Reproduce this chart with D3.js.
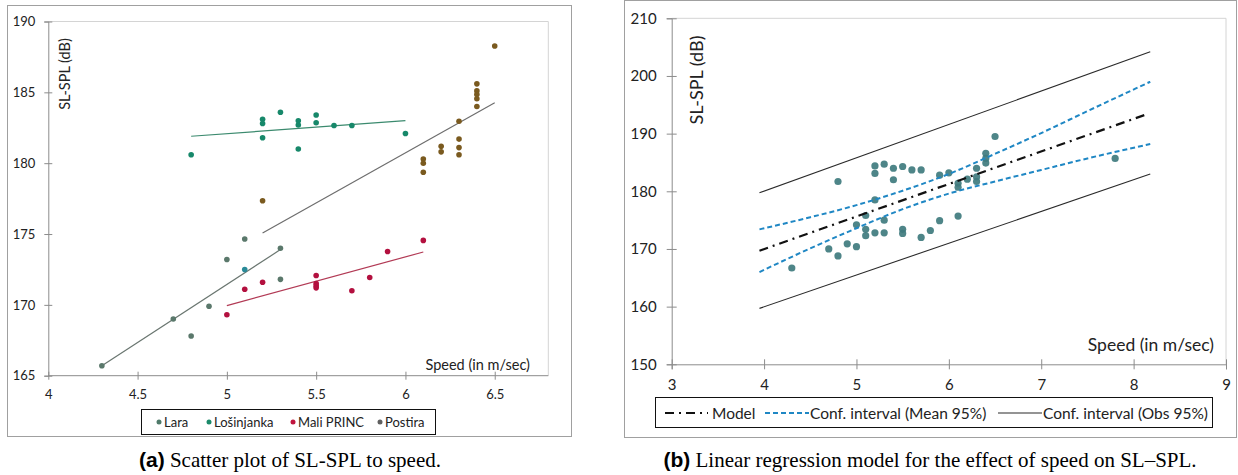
<!DOCTYPE html>
<html>
<head>
<meta charset="utf-8">
<script src="https://cdn.jsdelivr.net/npm/d3@7"></script>
<style>
  html, body { margin: 0; padding: 0; background: #fff; }
  svg { display: block; }
  .ax text { font-family: Lato, "Open Sans", sans-serif; fill: #222; }
</style>
</head>
<body>
<svg id="fig" width="1238" height="475"></svg>
<script>
// ---------- Panel (a): SL-SPL vs speed, per vessel ----------
const vessels = ["Lara", "Lošinjanka", "Mali PRINC", "Postira"];
const laraSpeed = [4.3, 4.7, 4.8, 4.9, 5.0, 5.1, 5.3, 5.3];
const laraSpl   = [165.7, 169.0, 167.8, 169.9, 173.2, 174.65, 174.0, 171.8];
const losSpeed  = [4.8, 5.1, 5.2, 5.2, 5.2, 5.3, 5.4, 5.4, 5.4, 5.5, 5.5, 5.6, 5.7, 6.0];
const losSpl    = [180.6, 172.5, 183.1, 182.8, 181.8, 183.6, 183.0, 182.7, 181.0, 183.4, 182.85, 182.66, 182.66, 182.1];
const maliSpeed = [5.0, 5.1, 5.2, 5.5, 5.5, 5.5, 5.5, 5.7, 5.8, 5.9, 6.1];
const maliSpl   = [169.3, 171.1, 171.6, 172.07, 171.5, 171.35, 171.2, 171.0, 171.93, 173.77, 174.55];
const postSpeed = [5.2, 6.1, 6.1, 6.1, 6.2, 6.2, 6.3, 6.3, 6.3, 6.3, 6.4, 6.4, 6.4, 6.4, 6.4, 6.5];
const postSpl   = [177.35, 180.3, 180.0, 179.36, 181.2, 180.8, 182.96, 181.7, 181.1, 180.6, 185.6, 185.1, 184.85, 184.55, 184.0, 188.27];
// fitted trend per vessel: [start speed, start SPL, end speed, end SPL]
const laraTrend = [4.3, 165.7, 5.3, 173.9];
const losTrend  = [4.8, 181.9, 6.0, 183.0];
const maliTrend = [5.0, 169.95, 6.1, 173.73];
const postTrend = [5.2, 175.07, 6.5, 184.26];
const ticksA_x = [4, 4.5, 5, 5.5, 6, 6.5];
const ticksA_y = [165, 170, 175, 180, 185, 190];

// ---------- Panel (b): pooled regression ----------
const allSpeed = [4.3, 4.7, 4.8, 4.9, 5.0, 4.8, 5.0, 5.1, 5.1, 5.1, 5.2, 5.2, 5.3, 5.3, 5.2, 5.2, 5.3, 5.4, 5.4, 5.5, 5.5, 5.5, 5.6, 5.7, 5.7, 5.8, 5.9, 5.9, 6.0, 6.1, 6.1, 6.1, 6.2, 6.3, 6.3, 6.3, 6.4, 6.4, 6.4, 6.5, 7.8];
const allSpl   = [166.7, 170.0, 168.8, 170.9, 170.4, 181.7, 174.2, 175.8, 173.4, 172.3, 178.5, 172.8, 175.0, 172.8, 184.4, 183.1, 184.7, 184.0, 182.0, 184.3, 173.4, 172.7, 183.7, 183.7, 172.0, 173.2, 182.8, 174.9, 183.2, 175.7, 181.4, 180.7, 182.1, 184.0, 182.5, 181.7, 186.6, 185.7, 184.9, 189.5, 185.7];
const modelSpeed = [3.95, 8.15];
const modelSpl   = [169.7, 193.4];
const ciSpeed    = [3.95, 4.5, 5.0, 5.5, 6.0, 6.5, 7.0, 7.5, 8.18];
const ciMeanHi   = [173.4, 175.5, 177.6, 180.1, 183.0, 186.5, 190.1, 193.9, 199.0];
const ciMeanLo   = [166.0, 170.1, 173.6, 176.9, 179.6, 181.7, 183.7, 185.7, 188.2];
const obsSpeed   = [3.95, 8.18];
const ciObsHi    = [179.75, 204.2];
const ciObsLo    = [159.7, 183.0];
const ticksB_x = [3, 4, 5, 6, 7, 8, 9];
const ticksB_y = [150, 160, 170, 180, 190, 200, 210];
const legendB = ["Model", "Conf. interval (Mean 95%)", "Conf. interval (Obs 95%)"];

const svg = d3.select("#fig");
const FONT = "Lato, 'Open Sans', sans-serif";

function greyAxis(g) {
  g.selectAll(".tick line").attr("stroke", "#8c8c8c");
  g.select(".domain").attr("stroke", "#8c8c8c");
}

// ================= Panel (a) =================
const A = svg.append("g");
A.append("rect").attr("x", 7.5).attr("y", 5.5).attr("width", 564).attr("height", 431)
  .attr("fill", "#fff").attr("stroke", "#a0a0a0");

const xA = d3.scaleLinear().domain([4, 6.8]).range([48.3, 548.3]);
const yA = d3.scaleLinear().domain([165, 190]).range([375.7, 21.5]);

// plot area frame (top / right)
A.append("path")
  .attr("d", `M${xA(4)},${yA(190)}H${xA(6.8)}V${yA(165)}`)
  .attr("fill", "none").attr("stroke", "#d4d4d4");

const axAx = A.append("g").attr("class", "ax").attr("transform", `translate(0,${yA(165)})`)
  .call(d3.axisBottom(xA).tickValues(ticksA_x).tickSizeOuter(0).tickSize(4).tickPadding(10)
    .tickFormat(d => String(d)));
axAx.selectAll(".tick line").attr("y1", -4).attr("y2", 4);
axAx.selectAll("text").style("font-size", "13px");
greyAxis(axAx);
axAx.select(".domain").attr("d", `M${xA(4)},0H${xA(6.8)}`);

const ayAx = A.append("g").attr("class", "ax").attr("transform", `translate(${xA(4)},0)`)
  .call(d3.axisLeft(yA).tickValues(ticksA_y).tickSizeOuter(0).tickSize(4).tickPadding(9));
ayAx.selectAll(".tick line").attr("x1", -4).attr("x2", 4);
ayAx.selectAll("text").style("font-size", "13px");
greyAxis(ayAx);

A.append("text").attr("transform", `translate(65,74) rotate(-90)`)
  .attr("text-anchor", "middle").attr("dy", "0.35em").attr("font-family", FONT).attr("font-size", 14.5).attr("fill", "#222")
  .text("SL-SPL (dB)");
A.append("text").attr("x", 530).attr("y", 370)
  .attr("text-anchor", "end").attr("font-family", FONT).attr("font-size", 14.5).attr("fill", "#222")
  .text("Speed (in m/sec)");

const seriesA = [
  { name: vessels[0], sx: laraSpeed, sy: laraSpl, trend: laraTrend, fill: "#5a786b", line: "#6a7670", legend: "#4f7a6a" },
  { name: vessels[1], sx: losSpeed,  sy: losSpl,  trend: losTrend,  fill: "#17886a", line: "#3b8a6e", legend: "#1b8a6a" },
  { name: vessels[2], sx: maliSpeed, sy: maliSpl, trend: maliTrend, fill: "#b3103f", line: "#b23a55", legend: "#c0143e" },
  { name: vessels[3], sx: postSpeed, sy: postSpl, trend: postTrend, fill: "#7a5a1f", line: "#6e6e6e", legend: "#606060" }
];
// the Lošinjanka point at 5.1 m/s overlaps Lara and reads bluish
const losOverlapFill = "#2a8a98";

seriesA.forEach(s => {
  const t = s.trend;
  A.append("line")
    .attr("x1", xA(t[0])).attr("y1", yA(t[1])).attr("x2", xA(t[2])).attr("y2", yA(t[3]))
    .attr("stroke", s.line).attr("stroke-width", 1.2);
});
seriesA.forEach(s => {
  A.append("g").selectAll("circle").data(s.sx.map((v, i) => [v, s.sy[i]])).join("circle")
    .attr("cx", d => xA(d[0])).attr("cy", d => yA(d[1])).attr("r", 2.8)
    .attr("fill", d => (s.name === "Lošinjanka" && d[0] === 5.1) ? losOverlapFill : s.fill);
});

// legend (a)
const legA = A.append("g");
legA.append("rect").attr("x", 141.5).attr("y", 409.5).attr("width", 294).attr("height", 25)
  .attr("fill", "#fff").attr("stroke", "#111");
const legAX = [159, 209, 293, 380];
seriesA.forEach((s, i) => {
  legA.append("circle").attr("cx", legAX[i]).attr("cy", 422).attr("r", 2.5).attr("fill", s.legend);
  legA.append("text").attr("x", legAX[i] + 5).attr("y", 426.5)
    .attr("font-family", FONT).attr("font-size", 13).attr("fill", "#222").text(s.name);
});

// ================= Panel (b) =================
const B = svg.append("g");
B.append("rect").attr("x", 624.5).attr("y", 0.5).attr("width", 612).attr("height", 437)
  .attr("fill", "#fff").attr("stroke", "#a0a0a0");

const xB = d3.scaleLinear().domain([3, 9]).range([671.7, 1226]);
const yB = d3.scaleLinear().domain([150, 210]).range([364.3, 18.3]);

B.append("path")
  .attr("d", `M${xB(3)},${yB(210)}H${xB(9)}V${yB(150)}`)
  .attr("fill", "none").attr("stroke", "#d4d4d4");

const bxAx = B.append("g").attr("class", "ax").attr("transform", `translate(0,${yB(150)})`)
  .call(d3.axisBottom(xB).tickValues(ticksB_x).tickSizeOuter(0).tickSize(5).tickPadding(10)
    .tickFormat(d => String(d)));
bxAx.selectAll(".tick line").attr("y1", -5).attr("y2", 5);
bxAx.selectAll("text").style("font-size", "15px");
greyAxis(bxAx);

const byAx = B.append("g").attr("class", "ax").attr("transform", `translate(${xB(3)},0)`)
  .call(d3.axisLeft(yB).tickValues(ticksB_y).tickSizeOuter(0).tickSize(5).tickPadding(10)
    .tickFormat(d => String(d)));
byAx.selectAll(".tick line").attr("x1", -5).attr("x2", 5);
byAx.selectAll("text").style("font-size", "15px");
greyAxis(byAx);

B.append("text").attr("transform", `translate(697,80) rotate(-90)`)
  .attr("text-anchor", "middle").attr("dy", "0.35em").attr("font-family", FONT).attr("font-size", 18).attr("fill", "#222")
  .text("SL-SPL (dB)");
B.append("text").attr("x", 1214).attr("y", 351)
  .attr("text-anchor", "end").attr("font-family", FONT).attr("font-size", 17.5).attr("fill", "#222")
  .text("Speed (in m/sec)");

// observations
B.append("g").selectAll("circle").data(allSpeed.map((v, i) => [v, allSpl[i]])).join("circle")
  .attr("cx", d => xB(d[0])).attr("cy", d => yB(d[1])).attr("r", 3.6)
  .attr("fill", "#3f7b7e").attr("fill-opacity", 0.92);

const lineB = d3.line().x(d => xB(d[0])).y(d => yB(d[1]));
const curveB = d3.line().x(d => xB(d[0])).y(d => yB(d[1])).curve(d3.curveMonotoneX);

// observation interval (solid, thin)
[ciObsHi, ciObsLo].forEach(arr => {
  B.append("path").attr("d", lineB(obsSpeed.map((s, i) => [s, arr[i]])))
    .attr("fill", "none").attr("stroke", "#2a2a2a").attr("stroke-width", 1.1);
});
// mean interval (blue dashed)
[ciMeanHi, ciMeanLo].forEach(arr => {
  B.append("path").attr("d", curveB(ciSpeed.map((s, i) => [s, arr[i]])))
    .attr("fill", "none").attr("stroke", "#1f87c4").attr("stroke-width", 2)
    .attr("stroke-dasharray", "5,3");
});
// model (dash-dot)
B.append("path").attr("d", lineB(modelSpeed.map((s, i) => [s, modelSpl[i]])))
  .attr("fill", "none").attr("stroke", "#111").attr("stroke-width", 2.2)
  .attr("stroke-dasharray", "9,5,2,5");

// legend (b)
const legB = B.append("g");
legB.append("rect").attr("x", 655.5).attr("y", 397.5).attr("width", 557).attr("height", 30)
  .attr("fill", "#fff").attr("stroke", "#111");
legB.append("line").attr("x1", 665).attr("x2", 708).attr("y1", 413).attr("y2", 413)
  .attr("stroke", "#111").attr("stroke-width", 2.2).attr("stroke-dasharray", "9,5,2,5");
legB.append("line").attr("x1", 765).attr("x2", 809).attr("y1", 413).attr("y2", 413)
  .attr("stroke", "#1f87c4").attr("stroke-width", 2).attr("stroke-dasharray", "5,3");
legB.append("line").attr("x1", 998).attr("x2", 1042).attr("y1", 413).attr("y2", 413)
  .attr("stroke", "#2a2a2a").attr("stroke-width", 1.1);
[[712, legendB[0]], [810, legendB[1]], [1043, legendB[2]]].forEach(([x, t]) => {
  legB.append("text").attr("x", x).attr("y", 418.5)
    .attr("font-family", FONT).attr("font-size", 15.5).attr("fill", "#222").text(t);
});

// ================= Captions =================
function caption(cx, tag, rest) {
  const t = svg.append("text").attr("x", cx).attr("y", 467).attr("text-anchor", "middle")
    .attr("font-size", 21).attr("fill", "#000");
  t.append("tspan").attr("font-family", "'Liberation Sans', Arial, sans-serif").attr("font-weight", "bold").text(tag);
  t.append("tspan").attr("font-family", "'Liberation Serif', 'Times New Roman', serif").text(" " + rest);
}
caption(290, "(a)", "Scatter plot of SL-SPL to speed.");
caption(930, "(b)", "Linear regression model for the effect of speed on SL–SPL.");
</script>
</body>
</html>
